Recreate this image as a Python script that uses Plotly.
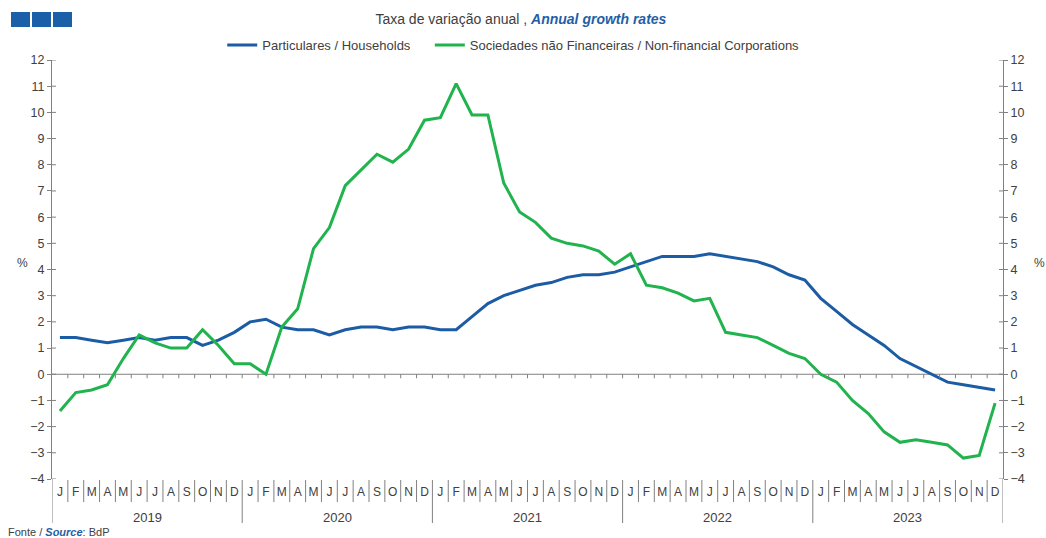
import plotly.graph_objects as go

# ---------------- data ----------------
years = [2019, 2020, 2021, 2022, 2023]
month_letters = ["J", "F", "M", "A", "M", "J", "J", "A", "S", "O", "N", "D"]
categories = [f"{y}-{m:02d}" for y in years for m in range(1, 13)]
tick_text = month_letters * len(years)

households = [
    1.4, 1.4, 1.3, 1.2, 1.3, 1.4, 1.3, 1.4, 1.4, 1.1, 1.3, 1.6,
    2.0, 2.1, 1.8, 1.7, 1.7, 1.5, 1.7, 1.8, 1.8, 1.7, 1.8, 1.8,
    1.7, 1.7, 2.2, 2.7, 3.0, 3.2, 3.4, 3.5, 3.7, 3.8, 3.8, 3.9,
    4.1, 4.3, 4.5, 4.5, 4.5, 4.6, 4.5, 4.4, 4.3, 4.1, 3.8, 3.6,
    2.9, 2.4, 1.9, 1.5, 1.1, 0.6, 0.3, 0.0, -0.3, -0.4, -0.5, -0.6,
]
nfc = [
    -1.4, -0.7, -0.6, -0.4, 0.6, 1.5, 1.2, 1.0, 1.0, 1.7, 1.1, 0.4,
    0.4, 0.0, 1.8, 2.5, 4.8, 5.6, 7.2, 7.8, 8.4, 8.1, 8.6, 9.7,
    9.8, 11.1, 9.9, 9.9, 7.3, 6.2, 5.8, 5.2, 5.0, 4.9, 4.7, 4.2,
    4.6, 3.4, 3.3, 3.1, 2.8, 2.9, 1.6, 1.5, 1.4, 1.1, 0.8, 0.6,
    0.0, -0.3, -1.0, -1.5, -2.2, -2.6, -2.5, -2.6, -2.7, -3.2, -3.1, -1.1,
]
y_ticks = list(range(-4, 13))

# ---------------- style ----------------
BLUE = "#1c5ca4"
GREEN = "#21b34d"
AXIS = "#808080"
TEXT = "#404040"
FONT = "Arial, 'Liberation Sans', sans-serif"

fig = go.Figure()
fig.add_trace(go.Scatter(x=categories, y=households, mode="lines",
                         name="Particulares / Households" + "\u00a0" * 4,
                         line=dict(color=BLUE, width=3)))
fig.add_trace(go.Scatter(x=categories, y=nfc, mode="lines",
                         name="Sociedades não Financeiras / Non-financial Corporations",
                         line=dict(color=GREEN, width=3)))

n = len(categories)
shapes = []
# zero line
shapes.append(dict(type="line", xref="paper", x0=0, x1=1, yref="y", y0=0, y1=0,
                   line=dict(color=AXIS, width=1), layer="below"))
# month separators under the plot and zero-line ticks
for k in range(1, n):
    b = k - 0.5
    long_ = (k % 12 == 0)
    shapes.append(dict(type="line", xref="x", yref="paper", ysizemode="pixel", yanchor=0,
                       x0=b, x1=b, y0=-1, y1=-44 if long_ else -23,
                       line=dict(color=AXIS, width=1)))
    shapes.append(dict(type="line", xref="x", yref="y", ysizemode="pixel", yanchor=0,
                       x0=b, x1=b, y0=0, y1=-4, line=dict(color=AXIS, width=1)))
# axis extensions below the plot
for b in (-0.5, n - 0.5):
    shapes.append(dict(type="line", xref="x", yref="paper", ysizemode="pixel", yanchor=0,
                       x0=b, x1=b, y0=0, y1=-44, line=dict(color=AXIS, width=1)))
# inner halves of y ticks (crossing ticks)
for v in y_ticks:
    shapes.append(dict(type="line", xref="paper", xsizemode="pixel", xanchor=0,
                       x0=0, x1=4, yref="y", y0=v, y1=v, line=dict(color=AXIS, width=1)))
    shapes.append(dict(type="line", xref="paper", xsizemode="pixel", xanchor=1,
                       x0=-4, x1=0, yref="y", y0=v, y1=v, line=dict(color=AXIS, width=1)))
# logo squares
for x0 in (-41, -20, 1):
    shapes.append(dict(type="rect", xref="paper", xsizemode="pixel", xanchor=0,
                       x0=x0, x1=x0 + 19, yref="paper", ysizemode="pixel", yanchor=1,
                       y0=33, y1=48, line=dict(width=0), fillcolor="#1a5fa8"))

annotations = []
for i, y in enumerate(years):
    annotations.append(dict(x=i * 12 + 5.5, xref="x", y=-0.0907, yref="paper",
                            text=str(y), showarrow=False, xanchor="center", yanchor="middle",
                            font=dict(size=13, color=TEXT)))
annotations.append(dict(x=-0.0305, xref="paper", y=0.5155, yref="paper", text="%",
                        showarrow=False, xanchor="center", yanchor="middle",
                        font=dict(size=12, color=TEXT)))
annotations.append(dict(x=1.0389, xref="paper", y=0.5155, yref="paper", text="%",
                        showarrow=False, xanchor="center", yanchor="middle",
                        font=dict(size=12, color=TEXT)))
annotations.append(dict(x=-0.0485, xref="paper", y=-0.1265, yref="paper", xanchor="left",
                        yanchor="middle", showarrow=False,
                        text="Fonte / <b><i><span style='color:#1f5fa8'>Source</span></i></b>: BdP",
                        font=dict(size=11, color=TEXT)))

yax = dict(range=[-4, 12], tickvals=y_ticks, ticks="outside", ticklen=4, tickcolor=AXIS,
           showline=True, linecolor=AXIS, linewidth=1, showgrid=False,
           zeroline=False, tickfont=dict(size=12.5, color=TEXT))

fig.update_layout(
    width=1046, height=538,
    margin=dict(l=52, r=43, t=60, b=59),
    paper_bgcolor="white", plot_bgcolor="white",
    font=dict(family=FONT, color=TEXT, size=12),
    title=dict(text="Taxa de variação anual , <b><i><span style='color:#1f5fa8'>Annual growth rates</span></i></b>",
               x=0.498, xref="container", xanchor="center",
               y=1 - 19 / 538, yref="container", yanchor="middle",
               font=dict(size=14, color=TEXT)),
    showlegend=True,
    legend=dict(orientation="h", x=0.485, xanchor="center", xref="paper",
                y=1.0358, yanchor="middle", yref="paper",
                font=dict(size=13, color=TEXT), itemwidth=30, bgcolor="rgba(0,0,0,0)"),
    xaxis=dict(type="category", categoryorder="array", categoryarray=categories,
               range=[-0.5, n - 0.5], tickmode="array", tickvals=categories, ticktext=tick_text,
               ticks="", showline=False, showgrid=False, zeroline=False,
               tickfont=dict(size=12, color=TEXT), ticklabelstandoff=4),
    yaxis=dict(**yax, side="left"),
    yaxis2=dict(**yax, side="right", overlaying="y", anchor="x"),
    shapes=shapes,
    annotations=annotations,
)
# helper trace so the right axis is drawn
fig.add_trace(go.Scatter(x=[categories[0]], y=[None], yaxis="y2", showlegend=False,
                         hoverinfo="skip"))

fig.write_html("out.html", config={"displayModeBar": False},
               post_script="document.body.style.margin='0';")
